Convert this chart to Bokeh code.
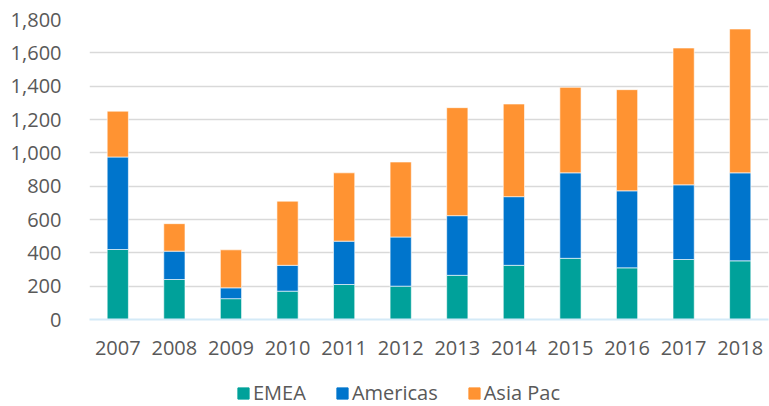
from bokeh.plotting import figure
from bokeh.layouts import column
from bokeh.models import ColumnDataSource, Range1d, NumeralTickFormatter, Legend, LegendItem, FixedTicker
from bokeh.embed import file_html
from bokeh.resources import INLINE

years = ["2007", "2008", "2009", "2010", "2011", "2012", "2013", "2014", "2015", "2016", "2017", "2018"]
emea = [420, 240, 125, 170, 210, 200, 265, 325, 367, 310, 360, 352]
americas = [555, 170, 65, 155, 260, 295, 358, 412, 513, 462, 448, 528]
asia_pac = [275, 165, 228, 385, 410, 450, 648, 556, 513, 607, 821, 863]
series = ["EMEA", "Americas", "Asia Pac"]
colors = ["#00A19A", "#0075CC", "#FF9332"]
y_ticks = [0, 200, 400, 600, 800, 1000, 1200, 1400, 1600, 1800]

src = ColumnDataSource(dict(years=years, EMEA=emea, Americas=americas, **{"Asia Pac": asia_pac}))

p = figure(x_range=years, y_range=Range1d(0, 1800), width=769, height=366,
           output_backend="svg", toolbar_location=None,
           min_border_left=89, min_border_right=1, min_border_top=19, min_border_bottom=47)
p.outline_line_color = None
p.background_fill_color = "white"
p.border_fill_color = "white"

rs = p.vbar_stack(series, x="years", width=0.375, source=src, color=colors,
                  line_color="white", line_width=0.6)

p.yaxis.ticker = FixedTicker(ticks=y_ticks)
p.yaxis.formatter = NumeralTickFormatter(format="0,0")
p.yaxis.axis_line_color = None
p.yaxis.major_tick_line_color = None
p.yaxis.minor_tick_line_color = None
p.yaxis.major_label_standoff = 22
p.yaxis.major_label_text_font = "Open Sans"
p.yaxis.major_label_text_font_size = "20px"
p.yaxis.major_label_text_color = "#595959"

p.xaxis.axis_line_color = "#D4EAF7"
p.xaxis.axis_line_width = 2
p.xaxis.major_tick_line_color = None
p.xaxis.minor_tick_line_color = None
p.xaxis.major_label_standoff = 15
p.xaxis.major_label_text_font = "Open Sans"
p.xaxis.major_label_text_font_size = "20px"
p.xaxis.major_label_text_color = "#595959"

p.xgrid.grid_line_color = None
p.ygrid.grid_line_color = "#D9D9D9"
p.ygrid.grid_line_width = 1.5

# legend strip (proxy glyphs with no visible data point)
lg = figure(width=769, height=40, output_backend="svg", toolbar_location=None,
            x_range=Range1d(0, 1), y_range=Range1d(0, 1),
            min_border_left=89, min_border_right=1, min_border_top=0, min_border_bottom=0)
lg.axis.visible = False
lg.grid.visible = False
lg.outline_line_color = None
nan = float("nan")
lg_rs = [lg.vbar(x=[nan], top=[nan], width=0.1, color=c) for c in colors]
legend = Legend(items=[LegendItem(label=s, renderers=[r]) for s, r in zip(series, lg_rs)],
                orientation="horizontal", location=(147, 0),
                padding=0, margin=0, spacing=29, label_standoff=3,
                glyph_width=14, glyph_height=14,
                label_text_font="Open Sans", label_text_font_size="20px",
                label_text_color="#595959", border_line_color=None,
                background_fill_alpha=0)
lg.add_layout(legend, "center")

open("out.html", "w").write(file_html(column(p, lg, spacing=0), INLINE))
